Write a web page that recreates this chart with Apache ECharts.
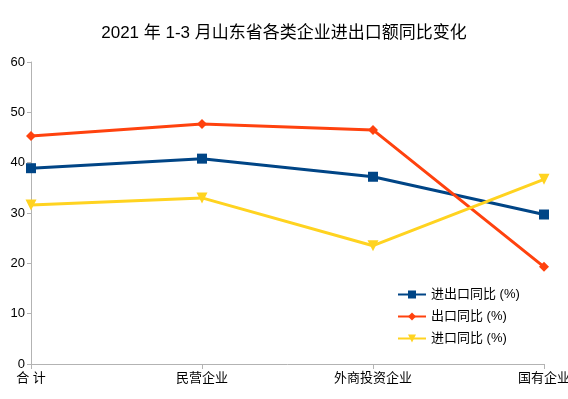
<!DOCTYPE html>
<html>
<head>
<meta charset="utf-8">
<script src="https://cdn.jsdelivr.net/npm/echarts@6/dist/echarts.min.js"></script>
<style>
html, body { margin: 0; padding: 0; background: #fff; }
#chart { width: 568px; height: 399px; }
</style>
</head>
<body>
<div id="chart"></div>
<script>
// 数据
var categories = ['合 计', '民营企业', '外商投资企业', '国有企业'];
var totalYoY = [38.9, 40.8, 37.2, 29.7];
var exportYoY = [45.3, 47.7, 46.5, 19.3];
var importYoY = [31.6, 33.0, 23.5, 36.7];
var seriesNames = ['进出口同比 (%)', '出口同比 (%)', '进口同比 (%)'];

var fontFamily = '"Liberation Sans", "Noto Sans CJK SC", sans-serif';

var chart = echarts.init(document.getElementById('chart'));

function lineSeries(name, data, color, symbol, size, rotate) {
	return {
		name: name,
		type: 'line',
		data: data,
		symbol: symbol,
		symbolSize: size,
		symbolRotate: rotate || 0,
		lineStyle: { color: color, width: 3 },
		itemStyle: { color: color },
		animation: false
	};
}

chart.setOption({
	textStyle: { fontFamily: fontFamily },
	title: {
		text: '2021 年 1-3 月山东省各类企业进出口额同比变化',
		left: 'center',
		top: 20,
		textStyle: { fontSize: 17, fontWeight: 'normal', color: '#000', fontFamily: fontFamily }
	},
	legend: {
		orient: 'vertical',
		left: 392,
		top: 283,
		itemWidth: 28,
		itemHeight: 10,
		itemGap: 9,
		textStyle: { fontSize: 13, color: '#000' },
		data: seriesNames
	},
	grid: { left: 31, right: 24, top: 62, bottom: 35, outerBoundsMode: 'none', containLabel: false },
	xAxis: {
		type: 'category',
		boundaryGap: false,
		data: categories,
		axisLine: { lineStyle: { color: '#b3b3b3', width: 1 } },
		axisTick: { show: true, length: 5, lineStyle: { color: '#b3b3b3' } },
		axisLabel: { color: '#000', fontSize: 13, margin: 8, interval: 0 },
		splitLine: { show: false }
	},
	yAxis: {
		type: 'value',
		min: 0,
		max: 60,
		interval: 10,
		axisLine: { show: true, lineStyle: { color: '#b3b3b3' } },
		axisTick: { show: true, length: 4, lineStyle: { color: '#b3b3b3' } },
		axisLabel: { color: '#000', fontSize: 13, margin: 6 },
		splitLine: { show: false }
	},
	series: [
		lineSeries(seriesNames[0], totalYoY, '#004586', 'rect', 10),
		lineSeries(seriesNames[1], exportYoY, '#ff420e', 'diamond', 10),
		lineSeries(seriesNames[2], importYoY, '#ffd320', 'triangle', 11, 180)
	]
});
</script>
</body>
</html>
